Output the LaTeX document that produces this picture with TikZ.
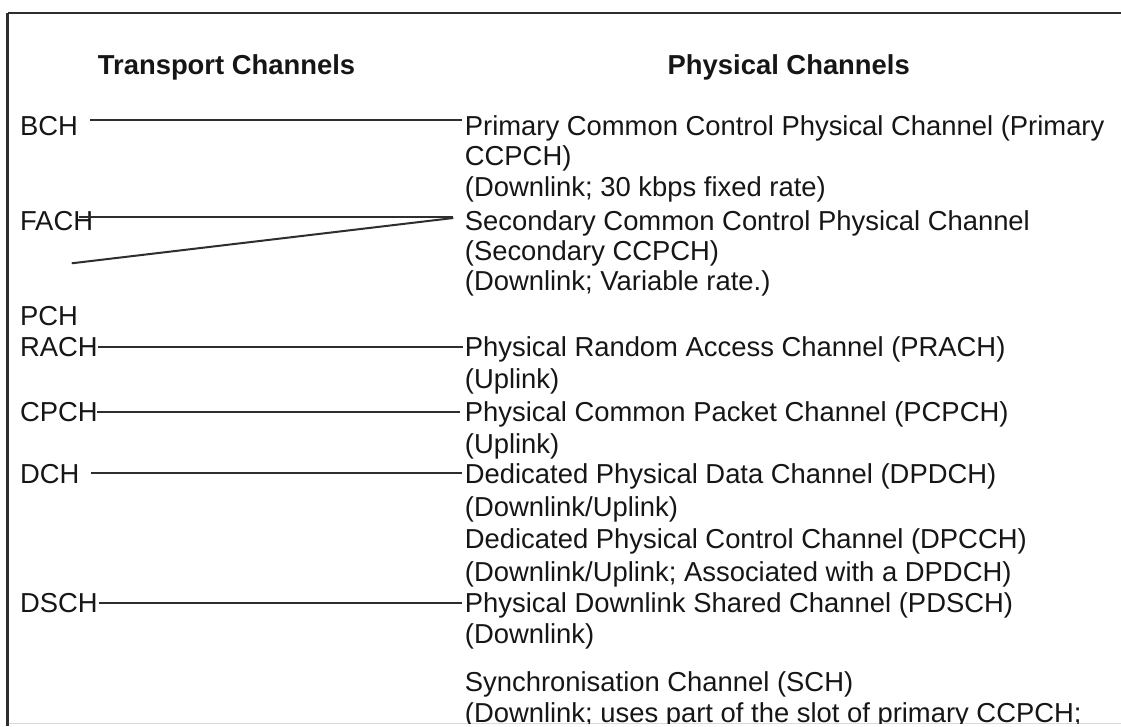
\documentclass[tikz,border=0pt]{standalone}
\usepackage{fontspec}
\setmainfont{Liberation Sans}
\definecolor{ink}{HTML}{161616}
\definecolor{wire}{HTML}{2E2E2E}
\definecolor{edge}{HTML}{2E2E2E}
\definecolor{faint}{HTML}{DADADA}
\begin{document}
\begin{tikzpicture}[x=1pt,y=-1pt,
  lbl/.style={anchor=base west, inner sep=0pt, text=ink,
              font=\fontsize{27.4}{31}\selectfont},
  head/.style={lbl, font=\fontsize{27.4}{31}\selectfont\bfseries},
  link/.style={draw=wire, line width=2pt},
  frameline/.style={draw=edge, line width=1.6pt}]

% page and frame
\fill[white] (0,0) rectangle (1121,726);
\useasboundingbox (0,0) rectangle (1121,726);
\draw[frameline] (1121,12.7) -- (7.5,12.7);
\draw[frameline, line width=2.3pt] (7.5,12.7) -- (7.5,726);
\draw[faint, line width=1pt] (8.6,723.5) -- (1121,723.5);

\begin{scope}
\clip (8.6,13.5) rectangle (1121,723);

% column headings
\node[head] (hT) at (97.7,74.5) {Transport Channels};
\node[head] (hP) at (667.5,74.5) {Physical Channels};

% transport channels
\node[lbl] (bch)  at (19.8,135)   {BCH};
\node[lbl] (fach) at (19.8,230)   {FACH};
\node[lbl] (pch)  at (19.8,325.5) {PCH};
\node[lbl] (rach) at (19.8,356.7) {RACH};
\node[lbl] (cpch) at (19.8,421.7) {CPCH};
\node[lbl] (dch)  at (19.8,483.3) {DCH};
\node[lbl] (dsch) at (19.8,612.7) {DSCH};

% physical channels
\node[lbl] (pcc)  at (464.7,135)   {Primary Common Control Physical Channel (Primary};
\node[lbl] (pcc2) at (464.7,165.5) {CCPCH)};
\node[lbl] (pcc3) at (464.7,196.5) {(Downlink; 30 kbps fixed rate)};
\node[lbl] (scc)  at (464.7,230)   {Secondary Common Control Physical Channel};
\node[lbl] (scc2) at (464.7,260)   {(Secondary CCPCH)};
\node[lbl] (scc3) at (464.7,290)   {(Downlink; Variable rate.)};
\node[lbl] (prach)  at (464.7,356.7) {Physical Random Access Channel (PRACH)};
\node[lbl] (prach2) at (464.7,388)   {(Uplink)};
\node[lbl] (pcpch)  at (464.7,421.7) {Physical Common Packet Channel (PCPCH)};
\node[lbl] (pcpch2) at (464.7,453)   {(Uplink)};
\node[lbl] (dpdch)  at (464.7,483.3) {Dedicated Physical Data Channel (DPDCH)};
\node[lbl] (dpdch2) at (464.7,516)   {(Downlink/Uplink)};
\node[lbl] (dpcch)  at (464.7,548.7) {Dedicated Physical Control Channel (DPCCH)};
\node[lbl] (dpcch2) at (464.7,581)   {(Downlink/Uplink; Associated with a DPDCH)};
\node[lbl] (pdsch)  at (464.7,612.7) {Physical Downlink Shared Channel (PDSCH)};
\node[lbl] (pdsch2) at (464.7,643.3) {(Downlink)};
\node[lbl] (sch)    at (464.7,691)   {Synchronisation Channel (SCH)};
\node[lbl] (sch2)   at (464.7,722)   {(Downlink; uses part of the slot of primary CCPCH;};
\end{scope}

% mappings between transport and physical channels
\coordinate (fachtail) at (71.7,263.3);
\draw[link] ([xshift=12.4pt,yshift=15pt]bch.base east)   -- ([xshift=-3pt,yshift=15pt]pcc.base west);
\draw[link] ([xshift=-14.4pt,yshift=13.3pt]fach.base east) -- ([xshift=-11.4pt,yshift=13.3pt]scc.base west);
\draw[link] (fachtail) -- ([xshift=-11.4pt,yshift=12pt]scc.base west);
\draw[link] ([xshift=0.6pt,yshift=9.4pt]rach.base east)  -- ([xshift=-1.7pt,yshift=9.4pt]prach.base west);
\draw[link] ([xshift=-1pt,yshift=10pt]cpch.base east)    -- ([xshift=-4.7pt,yshift=10pt]pcpch.base west);
\draw[link] ([xshift=11.8pt,yshift=10pt]dch.base east)   -- ([xshift=-3pt,yshift=10pt]dpdch.base west);
\draw[link] ([xshift=0.8pt,yshift=10pt]dsch.base east)   -- ([xshift=-3pt,yshift=10pt]pdsch.base west);
\end{tikzpicture}
\end{document}
